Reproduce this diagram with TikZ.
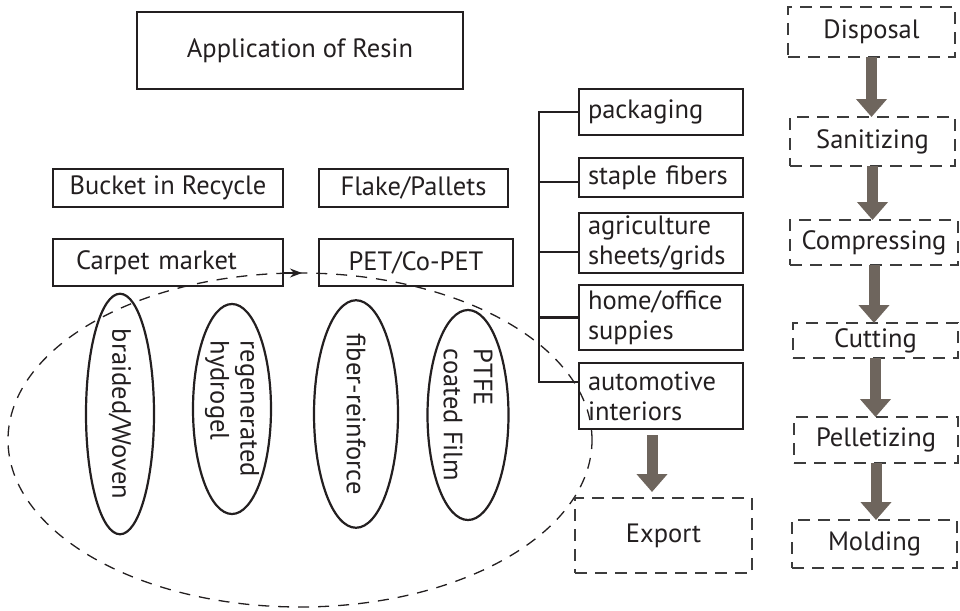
\documentclass[tikz,border=0pt]{standalone}
\usepackage{fontspec}
\setmainfont{PT Sans}
\usetikzlibrary{arrows.meta,shapes.geometric}

\definecolor{inkgray}{RGB}{35,31,32}
\definecolor{dashgray}{RGB}{60,60,60}
\definecolor{flowgray}{RGB}{110,101,93}

\tikzset{
  boxfont/.style={font=\fontsize{26.5}{30}\selectfont, text=inkgray},
  solidbox/.style={boxfont, draw=inkgray, line width=2.2pt, inner sep=0pt, outer sep=0pt},
  dashbox/.style={boxfont, draw=dashgray, line width=1.8pt, dash pattern=on 12pt off 8pt, inner sep=0pt, outer sep=0pt},
  listbox/.style={solidbox, inner xsep=9pt, text width=146pt, align=left},
  oval/.style={boxfont, ellipse, draw=inkgray, line width=2.2pt, inner sep=0pt, minimum width=210pt, rotate=-90, align=left},
  linkline/.style={draw=inkgray, line width=2.2pt},
  flow/.style={draw=flowgray, line width=11pt, -{Triangle[width=30pt,length=18pt]}},
}

\begin{document}
\begin{tikzpicture}[x=1pt, y=-1pt]
	\useasboundingbox (0,0) rectangle (960,610);

	% title
	\node[solidbox, minimum width=326pt, minimum height=77pt] (resin) at (300,50.5) {Application of Resin};

	% recycle boxes
	\node[solidbox, minimum width=230pt, minimum height=38pt] (bucket) at (168,188) {Bucket in Recycle};
	\node[solidbox, minimum width=189pt, minimum height=38pt] (flake) at (413.5,188) {Flake/Pallets};
	\node[solidbox, minimum width=230pt, minimum height=47pt, inner xsep=23pt, text width=184pt, align=left] (carpet) at (168,262.5) {Carpet market};
	\node[solidbox, minimum width=194pt, minimum height=47pt] (pet) at (416,262.5) {PET/Co-PET};

	% products
	\node[oval, minimum height=68pt] (braided) at (120,414) {braided/Woven};
	\node[oval, minimum height=78pt] (hydrogel) at (232,409) {regenerated\\hydrogel};
	\node[oval, minimum height=84pt] (fiber) at (356,414) {fiber-reinforce};
	\node[oval, minimum height=81pt] (ptfe) at (468,415) {PTFE\\coated Film};

	% dashed loop
	\node[ellipse, draw=inkgray, line width=1.3pt, dash pattern=on 11pt off 9pt, minimum width=584pt, minimum height=334pt, inner sep=0pt, outer sep=0pt] (loopring) at (300,440) {};
	\draw[inkgray, line width=1.3pt, -{Stealth[length=12pt,width=9pt]}] ([xshift=-16pt]loopring.north) -- ([xshift=2pt]loopring.north);

	% uses
	\node[listbox, minimum height=46pt] (packaging) at (661,112) {packaging};
	\node[listbox, minimum height=39pt] (staple) at (661,177.5) {staple fibers};
	\node[listbox, minimum height=60pt] (agri) at (661,243) {agriculture\\sheets/grids};
	\node[listbox, minimum height=65pt] (home) at (661,317.5) {home/office\\suppies};
	\node[listbox, minimum height=66pt] (auto) at (661,396) {automotive\\interiors};

	\coordinate (spine) at (539,0);
	\coordinate (tickstaple) at ([yshift=-4.5pt]staple.west);
	\coordinate (tickagri) at ([yshift=-9pt]agri.west);
	\coordinate (tickauto) at ([yshift=14pt]auto.west);
	\draw[linkline] (packaging.west) -- (packaging.west -| spine) -- (tickauto -| spine) -- (tickauto);
	\draw[linkline] (tickstaple -| spine) -- (tickstaple);
	\draw[linkline] (tickagri -| spine) -- (tickagri);
	\draw[linkline] (home.west -| spine) -- (home.west);

	\node[dashbox, minimum width=177pt, minimum height=75pt] (export) at (663.5,535.5) {Export};
	\coordinate (exportdrop) at ([xshift=-9pt]auto.south);
	\draw[flow, shorten <=6pt, shorten >=6pt] (exportdrop) -- (exportdrop |- export.north);

	% process chain
	\node[dashbox, minimum width=167pt, minimum height=50pt] (disposal) at (871.5,32) {Disposal};
	\node[dashbox, minimum width=165pt, minimum height=49pt] (sanitizing) at (872.5,141.5) {Sanitizing};
	\node[dashbox, minimum width=168pt, minimum height=45pt] (compressing) at (874,242.5) {Compressing};
	\node[dashbox, minimum width=165pt, minimum height=35pt] (cutting) at (875.5,340.5) {Cutting};
	\node[dashbox, minimum width=164pt, minimum height=46pt] (pelletizing) at (876,440) {Pelletizing};
	\node[dashbox, minimum width=165pt, minimum height=48pt] (molding) at (874.5,544) {Molding};

	\draw[flow] (disposal.south) -- (disposal.south |- sanitizing.north);
	\draw[flow] (sanitizing.south) -- (sanitizing.south |- compressing.north);
	\draw[flow] (compressing.south) -- (compressing.south |- cutting.north);
	\draw[flow] (cutting.south) -- (cutting.south |- pelletizing.north);
	\draw[flow] (pelletizing.south) -- (pelletizing.south |- molding.north);
\end{tikzpicture}
\end{document}
